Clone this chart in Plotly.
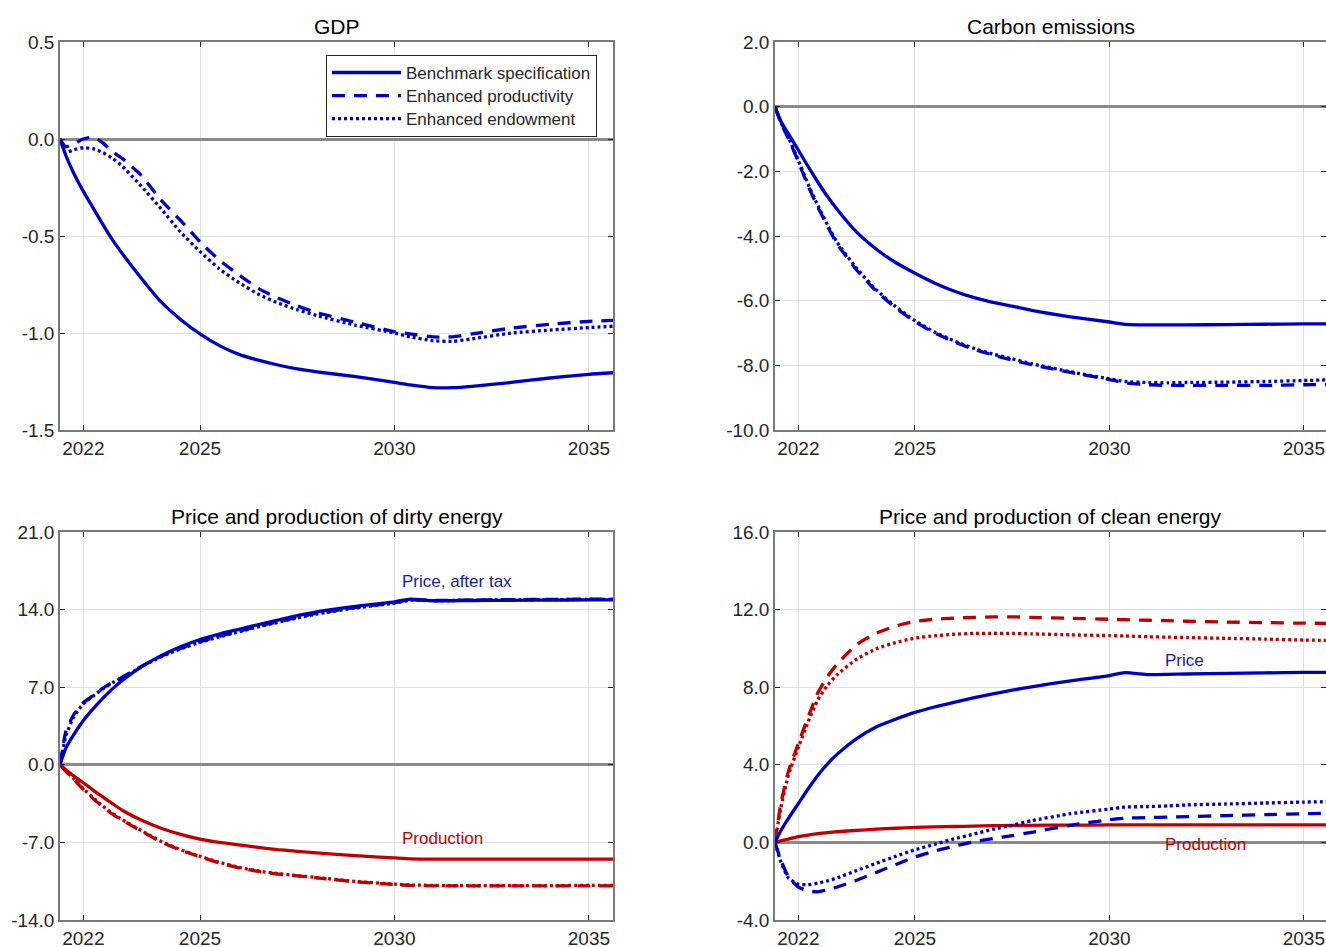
import plotly.graph_objects as go

# ---------------- data ----------------
YEARS = [2021.4, 2021.55, 2021.75, 2022.0, 2022.25, 2022.5, 2022.75, 2023.0,
         2023.5, 2024.0, 2024.5, 2025.0, 2025.5, 2026.0, 2026.5, 2027.0,
         2027.5, 2028.0, 2029.0, 2030.0, 2030.4, 2031.0, 2031.5, 2032.0,
         2033.0, 2034.0, 2035.0, 2035.62]

GDP_BENCH = [0, -0.085, -0.175, -0.27, -0.355, -0.44, -0.52, -0.59, -0.72, -0.84,
             -0.93, -1.005, -1.065, -1.11, -1.14, -1.165, -1.185, -1.2, -1.225,
             -1.255, -1.268, -1.282, -1.282, -1.275, -1.255, -1.232, -1.213, -1.205]
GDP_PROD = [0, -0.04, -0.025, 0.0, 0.01, -0.02, -0.065, -0.10, -0.19, -0.315,
            -0.42, -0.53, -0.625, -0.70, -0.77, -0.82, -0.86, -0.895, -0.945,
            -0.993, -1.005, -1.02, -1.02, -1.005, -0.975, -0.955, -0.94, -0.935]
GDP_ENDOW = [0, -0.07, -0.055, -0.045, -0.05, -0.07, -0.10, -0.14, -0.245, -0.36,
             -0.48, -0.58, -0.67, -0.74, -0.80, -0.845, -0.88, -0.91, -0.96,
             -1.0, -1.02, -1.04, -1.043, -1.03, -1.0, -0.985, -0.972, -0.965]

CO2_BENCH = [0, -0.45, -0.85, -1.34, -1.85, -2.33, -2.78, -3.18, -3.88, -4.4,
             -4.82, -5.15, -5.45, -5.7, -5.9, -6.05, -6.17, -6.3, -6.5, -6.66,
             -6.73, -6.75, -6.75, -6.75, -6.74, -6.73, -6.72, -6.72]
CO2_PROD = [0, -0.5, -1.0, -1.7, -2.45, -3.1, -3.7, -4.25, -5.05, -5.7, -6.22,
            -6.65, -7.0, -7.27, -7.5, -7.68, -7.84, -7.98, -8.22, -8.44, -8.54,
            -8.6, -8.62, -8.62, -8.62, -8.62, -8.6, -8.6]
CO2_ENDOW = [0, -0.48, -0.97, -1.66, -2.4, -3.05, -3.66, -4.2, -5.0, -5.66, -6.18,
             -6.62, -6.97, -7.24, -7.47, -7.65, -7.8, -7.95, -8.2, -8.42, -8.5,
             -8.53, -8.54, -8.53, -8.52, -8.5, -8.47, -8.45]

DIRTY_PRICE_BENCH = [0, 1.5, 2.7, 4.0, 5.05, 6.0, 6.85, 7.6, 8.85, 9.85, 10.65,
                     11.3, 11.8, 12.22, 12.65, 13.05, 13.45, 13.8, 14.3, 14.7, 14.95,
                     14.8, 14.8, 14.82, 14.84, 14.86, 14.87, 14.88]
DIRTY_PRICE_PROD = [0, 3.0, 4.5, 5.6, 6.25, 6.9, 7.45, 7.9, 8.9, 9.8, 10.5, 11.1,
                    11.6, 12.05, 12.5, 12.9, 13.3, 13.65, 14.2, 14.62, 14.88, 14.82,
                    14.84, 14.87, 14.9, 14.92, 14.94, 14.94]
DIRTY_PRICE_ENDOW = [0, 2.6, 4.3, 5.5, 6.2, 6.85, 7.4, 7.85, 8.85, 9.75, 10.45,
                     11.05, 11.55, 12.0, 12.45, 12.85, 13.25, 13.6, 14.15, 14.58,
                     14.85, 14.8, 14.82, 14.85, 14.88, 14.9, 14.92, 14.92]
DIRTY_PROD_BENCH = [0, -0.45, -1.0, -1.62, -2.28, -2.9, -3.5, -4.1, -5.0, -5.72,
                    -6.27, -6.7, -7.0, -7.22, -7.45, -7.65, -7.8, -7.95, -8.2, -8.4,
                    -8.48, -8.5, -8.5, -8.5, -8.5, -8.5, -8.5, -8.5]
DIRTY_PROD_PROD = [0, -0.6, -1.3, -2.22, -3.05, -3.8, -4.45, -5.0, -6.0, -6.95,
                   -7.7, -8.3, -8.85, -9.3, -9.62, -9.85, -10.02, -10.2, -10.55,
                   -10.8, -10.88, -10.92, -10.93, -10.93, -10.93, -10.93, -10.92, -10.92]
DIRTY_PROD_ENDOW = [0, -0.55, -1.25, -2.15, -2.97, -3.72, -4.38, -4.95, -5.95, -6.9,
                    -7.65, -8.25, -8.8, -9.25, -9.58, -9.82, -10.0, -10.17, -10.52,
                    -10.76, -10.84, -10.88, -10.9, -10.9, -10.9, -10.9, -10.88, -10.88]

CLEAN_PRICE_BENCH = [0, 0.6, 1.25, 2.0, 2.75, 3.45, 4.05, 4.55, 5.35, 5.95, 6.35,
                     6.7, 6.98, 7.22, 7.45, 7.65, 7.85, 8.02, 8.33, 8.6, 8.75, 8.65,
                     8.66, 8.68, 8.71, 8.74, 8.76, 8.77]
CLEAN_PRICE_PROD = [0, -0.9, -1.8, -2.3, -2.5, -2.55, -2.45, -2.3, -1.95, -1.55,
                    -1.15, -0.75, -0.45, -0.2, 0.02, 0.2, 0.35, 0.52, 0.88, 1.17,
                    1.25, 1.28, 1.3, 1.33, 1.38, 1.43, 1.48, 1.51]
CLEAN_PRICE_ENDOW = [0, -1.0, -1.85, -2.15, -2.18, -2.1, -1.98, -1.83, -1.45,
                     -1.08, -0.72, -0.38, -0.1, 0.18, 0.42, 0.68, 0.88, 1.12, 1.48,
                     1.72, 1.82, 1.85, 1.88, 1.93, 1.98, 2.03, 2.08, 2.1]
CLEAN_PROD_BENCH = [0, 0.08, 0.17, 0.3, 0.38, 0.45, 0.5, 0.55, 0.62, 0.68, 0.73,
                    0.77, 0.8, 0.82, 0.84, 0.86, 0.87, 0.88, 0.89, 0.9, 0.9, 0.9,
                    0.9, 0.9, 0.9, 0.9, 0.9, 0.9]
CLEAN_PROD_PROD = [0, 2.0, 3.7, 5.1, 6.45, 7.7, 8.55, 9.2, 10.2, 10.78, 11.15,
                   11.39, 11.5, 11.56, 11.6, 11.62, 11.63, 11.6, 11.55, 11.5, 11.48,
                   11.45, 11.43, 11.4, 11.36, 11.33, 11.3, 11.29]
CLEAN_PROD_ENDOW = [0, 1.8, 3.5, 4.9, 6.2, 7.35, 8.1, 8.65, 9.45, 9.98, 10.3,
                    10.53, 10.65, 10.73, 10.77, 10.78, 10.77, 10.75, 10.7, 10.66,
                    10.64, 10.6, 10.58, 10.56, 10.52, 10.48, 10.43, 10.41]

SERIES_NAMES = ["Benchmark specification", "Enhanced productivity", "Enhanced endowment"]

X_TICKS = [2022, 2025, 2030, 2035]
X_TICKTEXT = ["2022", "2025", "2030", "2035"]
GDP_TICKS = [0.5, 0.0, -0.5, -1.0, -1.5]
GDP_TICKTEXT = ["0.5", "0.0", "-0.5", "-1.0", "-1.5"]
CO2_TICKS = [2, 0, -2, -4, -6, -8, -10]
CO2_TICKTEXT = ["2.0", "0.0", "-2.0", "-4.0", "-6.0", "-8.0", "-10.0"]
DIRTY_TICKS = [21, 14, 7, 0, -7, -14]
DIRTY_TICKTEXT = ["21.0", "14.0", "7.0", "0.0", "-7.0", "-14.0"]
CLEAN_TICKS = [16, 12, 8, 4, 0, -4]
CLEAN_TICKTEXT = ["16.0", "12.0", "8.0", "4.0", "0.0", "-4.0"]

TITLES = ["GDP", "Carbon emissions", "Price and production of dirty energy",
          "Price and production of clean energy"]

# ---------------- style ----------------
BLUE = "#0000C4"
RED = "#C00000"
FONT = "Liberation Sans, Arial, sans-serif"
DASHES = ["solid", "13px,9px", "3px,3px"]
LW = 3.3

fig = go.Figure()


def add_line(xa, ya, vals, color, kind, legend=False):
    fig.add_trace(go.Scatter(
        x=YEARS, y=vals, mode="lines", xaxis=xa, yaxis=ya,
        name='<span style="font-size:17px">' + SERIES_NAMES[kind] + "</span>",
        showlegend=legend,
        line=dict(color=color, width=LW, dash=DASHES[kind], shape="spline",
                  smoothing=0.5),
        hoverinfo="skip"))


for k, v in enumerate([GDP_BENCH, GDP_PROD, GDP_ENDOW]):
    add_line("x", "y", v, BLUE, k, legend=True)
for k, v in enumerate([CO2_BENCH, CO2_PROD, CO2_ENDOW]):
    add_line("x2", "y2", v, BLUE, k)
for k, v in enumerate([DIRTY_PROD_BENCH, DIRTY_PROD_PROD, DIRTY_PROD_ENDOW]):
    add_line("x3", "y3", v, RED, k)
for k, v in enumerate([DIRTY_PRICE_BENCH, DIRTY_PRICE_PROD, DIRTY_PRICE_ENDOW]):
    add_line("x3", "y3", v, BLUE, k)
for k, v in enumerate([CLEAN_PROD_BENCH, CLEAN_PROD_PROD, CLEAN_PROD_ENDOW]):
    add_line("x4", "y4", v, RED, k)
for k, v in enumerate([CLEAN_PRICE_BENCH, CLEAN_PRICE_PROD, CLEAN_PRICE_ENDOW]):
    add_line("x4", "y4", v, BLUE, k)

W, H = 1326, 947
ML, MR, MT, MB = 60, 0, 42, 27
PW = W - ML - MR
PH = H - MT - MB
left_dom = [0, 553 / PW]
right_dom = [715 / PW, 1]
top_dom = [490 / PH, 1]
bot_dom = [0, 388 / PH]

common_x = dict(tickmode="array", tickvals=X_TICKS, ticktext=X_TICKTEXT,
                showline=True, linecolor="#7a7a7a", linewidth=1.5, mirror="ticks",
                ticks="inside", ticklen=5, tickwidth=1, tickcolor="#262626",
                showgrid=True, gridcolor="#e1e1e1", gridwidth=1, zeroline=False,
                tickfont=dict(family=FONT, size=19, color="#262626"),
                ticklabelstandoff=0)
common_y = dict(tickmode="array", showline=True, linecolor="#7a7a7a", linewidth=1.5,
                mirror="ticks", ticks="inside", ticklen=5, tickwidth=1,
                tickcolor="#262626", showgrid=True, gridcolor="#e1e1e1", gridwidth=1,
                zeroline=True, zerolinecolor="#8a8a8a", zerolinewidth=2.5,
                tickfont=dict(family=FONT, size=19, color="#262626"))

XR_LEFT = [2021.4, 2035.62]
XR_RIGHT = [2021.4, 2035.57]

fig.update_layout(
    width=W, height=H, margin=dict(l=ML, r=MR, t=MT, b=MB, autoexpand=False),
    paper_bgcolor="white", plot_bgcolor="white",
    xaxis=dict(common_x, domain=left_dom, range=XR_LEFT, anchor="y"),
    yaxis=dict(common_y, domain=top_dom, range=[-1.5, 0.5], tickvals=GDP_TICKS,
               ticktext=GDP_TICKTEXT, anchor="x"),
    xaxis2=dict(common_x, domain=right_dom, range=XR_RIGHT, anchor="y2"),
    yaxis2=dict(common_y, domain=top_dom, range=[-10, 2], tickvals=CO2_TICKS,
                ticktext=CO2_TICKTEXT, anchor="x2"),
    xaxis3=dict(common_x, domain=left_dom, range=XR_LEFT, anchor="y3"),
    yaxis3=dict(common_y, domain=bot_dom, range=[-14, 21], tickvals=DIRTY_TICKS,
                ticktext=DIRTY_TICKTEXT, anchor="x3"),
    xaxis4=dict(common_x, domain=right_dom, range=XR_RIGHT, anchor="y4"),
    yaxis4=dict(common_y, domain=bot_dom, range=[-4, 16], tickvals=CLEAN_TICKS,
                ticktext=CLEAN_TICKTEXT, anchor="x4"),
    legend=dict(x=(326 - ML) / PW, y=(H - MB - 55) / PH, xanchor="left", yanchor="top",
                xref="paper", yref="paper", bgcolor="white", bordercolor="#262626",
                borderwidth=1, font=dict(family=FONT, size=15.4, color="#262626"),
                itemwidth=69, tracegroupgap=0),
    showlegend=True,
)

annots = []
for i, (xa, ya) in enumerate([("x", "y"), ("x2", "y2"), ("x3", "y3"), ("x4", "y4")]):
    annots.append(dict(text=TITLES[i], xref=xa + " domain", yref=ya + " domain",
                       x=0.5, y=1, xanchor="center", yanchor="bottom", yshift=2,
                       showarrow=False, font=dict(family=FONT, size=21, color="black")))

LABEL_TXT = ["Price, after tax", "Production", "Price", "Production"]
LABEL_X = [2030.15, 2030.15, 2031.38, 2031.38]
LABEL_Y = [16.5, -6.68, 9.38, -0.1]
LABEL_AX = [("x3", "y3"), ("x3", "y3"), ("x4", "y4"), ("x4", "y4")]
LABEL_C = ["#1a1aaa", "#c00000", "#1a1aaa", "#c00000"]
for t, lx, ly, (xa, ya), c in zip(LABEL_TXT, LABEL_X, LABEL_Y, LABEL_AX, LABEL_C):
    annots.append(dict(text=t, x=lx, y=ly, xref=xa, yref=ya, xanchor="left",
                       yanchor="middle", showarrow=False,
                       font=dict(family=FONT, size=17, color=c)))
fig.update_layout(annotations=annots)

fig.write_html("out.html", config={"displayModeBar": False},
               post_script="document.body.style.margin='0px';"
                           "document.body.style.overflow='hidden';")
